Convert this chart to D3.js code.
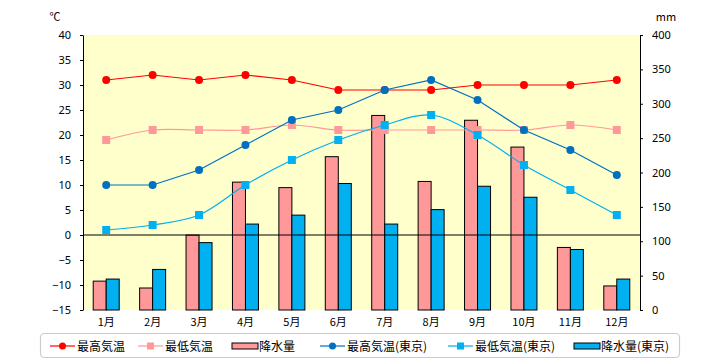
<!DOCTYPE html>
<html><head><meta charset="utf-8">
<script src="https://cdn.jsdelivr.net/npm/d3@7"></script>
<style>body{margin:0;background:#fff;} text{font-family:"Noto Sans CJK JP","Noto Sans",sans-serif;}</style>
</head><body><svg id="c" width="720" height="360"></svg>
<script>
const months = ["1月","2月","3月","4月","5月","6月","7月","8月","9月","10月","11月","12月"];
const maxTemp = [31,32,31,32,31,29,29,29,30,30,30,31];
const minTemp = [19,21,21,21,22,21,21,21,21,21,22,21];
const rain = [42,32,109,186,178,223,283,187,276,237,91,35];
const maxTempTokyo = [10,10,13,18,23,25,29,31,27,21,17,12];
const minTempTokyo = [1,2,4,10,15,19,22,24,20,14,9,4];
const rainTokyo = [45,59,98,125,138,184,125,146,180,164,88,45];
const tempTicks = [-15,-10,-5,0,5,10,15,20,25,30,35,40];
const rainTicks = [0,50,100,150,200,250,300,350,400];
const legendLabels = ["最高気温","最低気温","降水量","最高気温(東京)","最低気温(東京)","降水量(東京)"];

const svg = d3.select("#c");
const L=83,R=640,T=35,B=310;
const x = d3.scaleBand().domain(months).range([L,R]);
const yT = d3.scaleLinear().domain([-15,40]).range([B,T]);
const yR = d3.scaleLinear().domain([0,400]).range([B,T]);
const cx = m => x(m)+x.bandwidth()/2;

svg.append("rect").attr("x",L).attr("y",T).attr("width",R-L).attr("height",B-T).attr("fill","#ffffcc");

// bars
const bw = 13;
const bars = svg.append("g");
bars.selectAll(".r1").data(rain).join("rect")
  .attr("x",(d,i)=>cx(months[i])-bw).attr("width",bw)
  .attr("y",d=>yR(d)).attr("height",d=>B-yR(d))
  .attr("fill","#ff9999").attr("stroke","#000").attr("stroke-width",1);
bars.selectAll(".r2").data(rainTokyo).join("rect")
  .attr("x",(d,i)=>cx(months[i])).attr("width",bw)
  .attr("y",d=>yR(d)).attr("height",d=>B-yR(d))
  .attr("fill","#00b0f0").attr("stroke","#000").attr("stroke-width",1);

// zero line
svg.append("line").attr("x1",L).attr("x2",R).attr("y1",yT(0)).attr("y2",yT(0)).attr("stroke","#000");

// axes
const ga = svg.append("g").attr("transform",`translate(${L},0)`)
  .call(d3.axisLeft(yT).tickValues(tempTicks).tickSize(3).tickSizeOuter(0));
const gb = svg.append("g").attr("transform",`translate(${R},0)`)
  .call(d3.axisRight(yR).tickValues(rainTicks).tickSize(3).tickSizeOuter(0));
[ga,gb].forEach(g=>{
  g.select(".domain").attr("stroke","#000");
  g.selectAll("text").attr("font-size",11).attr("fill","#000").style("font-family","'Noto Sans','DejaVu Sans',sans-serif");
});
ga.selectAll("text").attr("x",-12);
gb.selectAll("text").attr("x",12).attr("text-anchor","start");
svg.append("text").attr("x",55).attr("y",21).attr("font-size",11).attr("text-anchor","middle").text("℃");
svg.append("text").attr("x",666).attr("y",21).attr("font-size",11).attr("text-anchor","middle").text("mm");

svg.append("g").selectAll("text").data(months).join("text")
  .attr("x",d=>cx(d)).attr("y",326).attr("text-anchor","middle").attr("font-size",11).text(d=>d);

// lines
function series(data,color,shape,curve){
  const line = d3.line().x((d,i)=>cx(months[i])).y(d=>yT(d)).curve(curve);
  svg.append("path").datum(data).attr("d",line).attr("fill","none").attr("stroke",color).attr("stroke-width",1.2);
  const g = svg.append("g");
  if(shape==="circle"){
    g.selectAll("circle").data(data).join("circle").attr("cx",(d,i)=>cx(months[i])).attr("cy",d=>yT(d)).attr("r",4).attr("fill",color);
  } else {
    g.selectAll("rect").data(data).join("rect").attr("x",(d,i)=>cx(months[i])-4).attr("y",d=>yT(d)-4).attr("width",8).attr("height",8).attr("fill",color);
  }
}
series(minTemp,"#ff9999","square",d3.curveCatmullRom);
series(maxTemp,"#ff0000","circle",d3.curveLinear);
series(maxTempTokyo,"#0070c0","circle",d3.curveLinear);
series(minTempTokyo,"#00b0f0","square",d3.curveCatmullRom);

// legend
const lg = svg.append("g");
lg.append("rect").attr("x",40.5).attr("y",333.5).attr("width",639).attr("height",24).attr("rx",4)
  .attr("fill","#fff").attr("stroke","#ccc").attr("stroke-width",1.2);
const items = [
  {x:50,t:"line",c:"#ff0000",s:"circle"},
  {x:138,t:"line",c:"#ff9999",s:"square"},
  {x:232,t:"bar",c:"#ff9999"},
  {x:320,t:"line",c:"#0070c0",s:"circle"},
  {x:448,t:"line",c:"#00b0f0",s:"square"},
  {x:574,t:"bar",c:"#00b0f0"}
];
const ly = 346;
items.forEach((it,i)=>{
  if(it.t==="line"){
    lg.append("line").attr("x1",it.x).attr("x2",it.x+25).attr("y1",ly).attr("y2",ly).attr("stroke",it.c).attr("stroke-width",1.2);
    if(it.s==="circle") lg.append("circle").attr("cx",it.x+12.5).attr("cy",ly).attr("r",3.5).attr("fill",it.c);
    else lg.append("rect").attr("x",it.x+9).attr("y",ly-3.5).attr("width",7).attr("height",7).attr("fill",it.c);
  } else {
    lg.append("rect").attr("x",it.x).attr("y",ly-3).attr("width",26).attr("height",6).attr("fill",it.c).attr("stroke","#000");
  }
  lg.append("text").attr("x",it.x+27).attr("y",ly+4.5).attr("font-size",12).text(legendLabels[i]);
});
</script></body></html>
